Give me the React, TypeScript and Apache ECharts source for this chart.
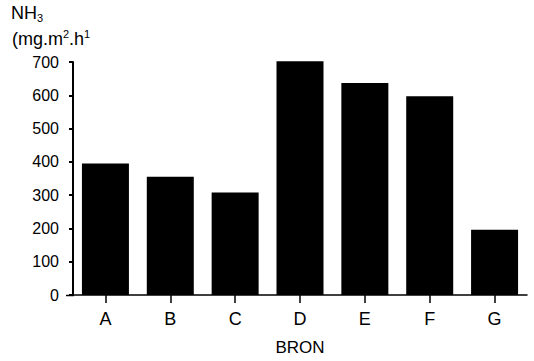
import React, { useEffect, useRef } from "react";
import * as echarts from "echarts";

const categories = ["A", "B", "C", "D", "E", "F", "G"];
const values = [395, 355, 308, 702, 637, 597, 196];
const yTicks = { min: 0, max: 700, interval: 100 };
const xAxisTitle = "BRON";

const FONT = "'Liberation Sans', Arial, Helvetica, sans-serif";

export default function App() {
  const ref = useRef<HTMLDivElement>(null);
  useEffect(() => {
    if (!ref.current) return;
    const chart = echarts.init(ref.current, undefined, { renderer: "svg" });
    chart.setOption({
      animation: false,
      backgroundColor: "#fff",
      textStyle: { fontFamily: FONT, color: "#000" },
      grid: { left: 73, right: 7, top: 62, bottom: 66, containLabel: false },
      xAxis: {
        type: "category",
        data: categories,
        name: xAxisTitle,
        nameLocation: "middle",
        nameGap: 44,
        nameTextStyle: { fontSize: 17, color: "#000", fontFamily: FONT },
        axisLine: { show: true, lineStyle: { color: "#000", width: 1.5 } },
        axisTick: { show: true, alignWithLabel: true, length: 8, lineStyle: { color: "#000", width: 1.5 } },
        axisLabel: { fontSize: 18, color: "#000", margin: 15, fontFamily: FONT },
        splitLine: { show: false },
      },
      yAxis: {
        type: "value",
        min: yTicks.min,
        max: yTicks.max,
        interval: yTicks.interval,
        axisLine: { show: true, lineStyle: { color: "#000", width: 2 } },
        axisTick: { show: true, length: 4, lineStyle: { color: "#000", width: 2 } },
        axisLabel: { fontSize: 16, color: "#000", margin: 14, fontFamily: FONT },
        splitLine: { show: false },
      },
      graphic: [
        { type: "text", left: 11, top: 4, style: { text: "NH", fontSize: 18, fill: "#000", fontFamily: FONT } },
        { type: "text", left: 37, top: 12, style: { text: "3", fontSize: 11, fill: "#000", fontFamily: FONT } },
        { type: "text", left: 12, top: 30, style: { text: "(mg.m", fontSize: 18, fill: "#000", fontFamily: FONT } },
        { type: "text", left: 63, top: 28, style: { text: "2", fontSize: 11, fill: "#000", fontFamily: FONT } },
        { type: "text", left: 69, top: 30, style: { text: ".h", fontSize: 18, fill: "#000", fontFamily: FONT } },
        { type: "text", left: 84, top: 28, style: { text: "1", fontSize: 11, fill: "#000", fontFamily: FONT } },
        { type: "line", shape: { x1: 66, y1: 295.5, x2: 74, y2: 295.5 }, style: { stroke: "#000", lineWidth: 1.5 } },
      ],
      series: [
        {
          type: "bar",
          data: values,
          barWidth: 47,
          clip: false,
          itemStyle: { color: "#000" },
        },
      ],
    });
    return () => chart.dispose();
  }, []);
  return <div ref={ref} style={{ width: 534, height: 361, position: "absolute", left: 0, top: 0 }} />;
}
